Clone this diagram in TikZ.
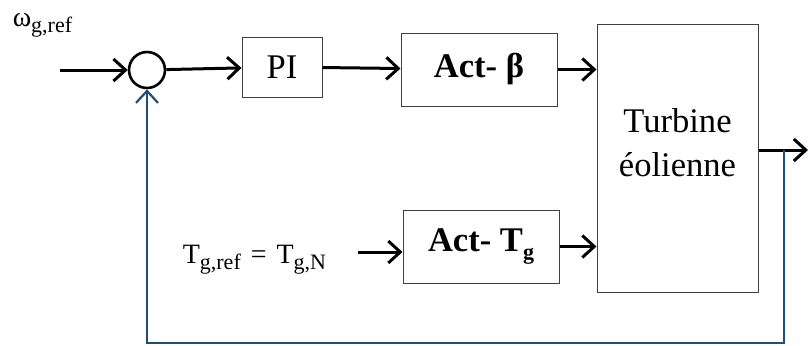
\documentclass[tikz,border=0pt]{standalone}
\usepackage{fontspec}
\setmainfont{Liberation Serif}
\usepackage{xcolor}
\usetikzlibrary{arrows.meta}

\definecolor{fbblue}{RGB}{31,78,121}
\newcommand{\lowidx}[1]{\raisebox{-0.5ex}{\fontsize{11}{11}\selectfont #1}}

\begin{document}
\begin{tikzpicture}[x=0.5pt, y=-0.5pt, thick]
    \tikzstyle{block} = [rectangle, draw=black!75, line width=0.5pt, inner sep=0pt, font=\LARGE]
    \tikzstyle{line} = [draw, line width=1.5pt, -{Straight Barb[length=6pt, width=11pt]}]
    \tikzstyle{fback} = [draw, fbblue, line width=1.1pt, -{Straight Barb[length=6pt, width=11pt]}]
    \tikzstyle{lbl} = [inner sep=0pt, font=\fontsize{14}{16}\selectfont]
    \useasboundingbox (0,0) rectangle (808,345);

    \node [circle, draw, line width=1.3pt, minimum size=18pt, inner sep=0pt] (sum) at (147,70) {};
    \node [block, minimum width=40pt, minimum height=30pt] (pi) at (282,67) {PI};
    \node [block, minimum width=78pt, minimum height=36.5pt] (actb) at (479,69.5) {\textbf{Act- β}};
    \node [block, minimum width=78pt, minimum height=36.5pt] (acttg) at (481,246.5) {\textbf{Act- T\lowidx{\textbf{g}}}};
    \node [block, minimum width=80.5pt, minimum height=134pt] (turb) at (677.5,158) {};
    \node [font=\LARGE, align=center, inner sep=0pt] (turbtxt) at (677.5,143) {Turbine\\éolienne};

    \node [lbl, anchor=base west] (wref) at (12,26) {ω\lowidx{g,ref}};
    \node [lbl, anchor=base west] (tref) at (182,263) {T\lowidx{g,ref}\hspace{5pt}=\hspace{5pt}T\lowidx{g,N}};

    \coordinate (in) at (60,70);
    \coordinate (tgin) at (358,252);
    \coordinate (split) at (784,150);
    \coordinate (out) at (808,150);
    \coordinate (low) at (784,343);

    \path [line] (in) -- (sum);
    \path [line] (sum) -- (pi);
    \path [line] (pi) -- (actb);
    \path [line] (actb) -- (actb -| turb.west);
    \path [line] (tgin) -- (tgin -| acttg.west);
    \path [line] (acttg.east) -- (acttg.east -| turb.west);
    \path [line] (turb.east |- split) -- (out);
    \path [fback] (split) -- (low) -| (sum.south);
\end{tikzpicture}
\end{document}
